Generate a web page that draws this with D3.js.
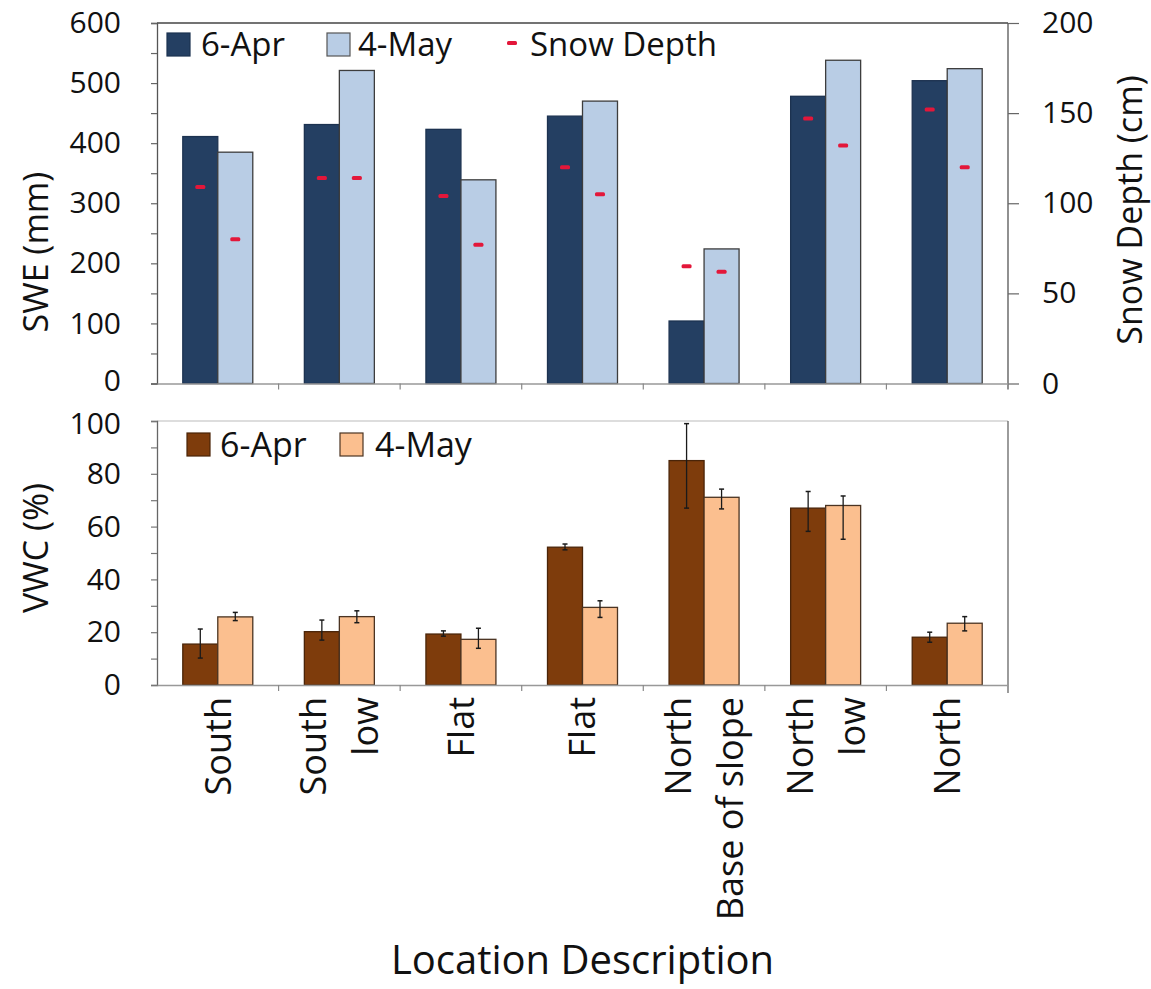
<!DOCTYPE html>
<html>
<head>
<meta charset="utf-8">
<script src="https://cdn.jsdelivr.net/npm/d3@7"></script>
<style>
  body { margin: 0; background: #fff; }
  svg { display: block; }
  text { font-family: "Open Sans", sans-serif; fill: #111; }
</style>
</head>
<body>
<svg id="chart" width="1151" height="989"></svg>
<script>
// Site descriptions (a "|" splits a label onto two rotated lines)
const categories = ["South", "South|low", "Flat", "Flat", "North|Base of slope", "North|low", "North"];
const seriesNames = ["6-Apr", "4-May"];

// Snow water equivalent (mm)
const sweApr = [411, 431, 423, 445, 104, 478, 504];
const sweMay = [385, 521, 339, 470, 224, 538, 524];

// Snow depth (cm)
const depthApr = [109, 114, 104, 120, 65, 147, 152];
const depthMay = [80, 114, 77, 105, 62, 132, 120];

// Volumetric water content (%) with error bar extents
const vwcApr = [15.5, 20.2, 19.3, 52.2, 85, 67, 18.1];
const vwcMay = [25.8, 25.9, 17.3, 29.4, 71.1, 68, 23.4];
const vwcAprErrUp = [5.7, 4.4, 1.2, 1.2, 14, 6.3, 1.9];
const vwcAprErrDown = [5.3, 3.2, 0.8, 1.0, 18, 8.8, 1.9];
const vwcMayErrUp = [1.7, 2.2, 4.2, 2.5, 3.1, 3.6, 2.5];
const vwcMayErrDown = [1.4, 2.3, 3.4, 3.8, 4.4, 12.8, 2.9];

// Axis ticks
const sweTicks = d3.range(0, 601, 50);
const sweLabelStep = 100;
const depthTicks = [0, 50, 100, 150, 200];
const vwcTicks = d3.range(0, 101, 10);
const vwcLabelStep = 20;

const svg = d3.select("#chart");
const left = 157, right = 1008;
const top1 = 23, bottom1 = 383.5;
const top2 = 421, bottom2 = 685;
const tickFont = 30;

const idx = d3.range(categories.length);
const x0 = d3.scaleBand().domain(idx).range([left, right]).paddingInner(0).paddingOuter(0);
const x1 = d3.scaleBand().domain(seriesNames).range([0, x0.bandwidth()]).paddingInner(0).paddingOuter(0.737);

const ySwe = d3.scaleLinear().domain([0, 600]).range([bottom1, top1]);
const yDepth = d3.scaleLinear().domain([0, 200]).range([bottom1, top1]);
const yVwc = d3.scaleLinear().domain([0, 100]).range([bottom2, top2]);

const colors = {
  navy: "#243f62", lightBlue: "#b9cde5",
  brown: "#7e3c0c", peach: "#fbbf8f",
  red: "#e3173a"
};

// ---------- Upper panel: SWE bars + snow depth markers ----------
const upper = svg.append("g");

const sweRows = idx.map(i => ({ i, vals: [
  { s: "6-Apr", v: sweApr[i], d: depthApr[i], fill: colors.navy, stroke: "#1c3250" },
  { s: "4-May", v: sweMay[i], d: depthMay[i], fill: colors.lightBlue, stroke: "#3d3d3d" }
]}));

const sweGroups = upper.selectAll("g.cat").data(sweRows).join("g")
  .attr("class", "cat")
  .attr("transform", d => `translate(${x0(d.i)},0)`);

sweGroups.selectAll("rect.bar").data(d => d.vals).join("rect")
  .attr("class", "bar")
  .attr("x", d => x1(d.s))
  .attr("width", x1.bandwidth())
  .attr("y", d => ySwe(d.v))
  .attr("height", d => ySwe(0) - ySwe(d.v))
  .attr("fill", d => d.fill)
  .attr("stroke", d => d.stroke)
  .attr("stroke-width", 1.3);

sweGroups.selectAll("rect.depth").data(d => d.vals).join("rect")
  .attr("class", "depth")
  .attr("x", d => x1(d.s) + x1.bandwidth() / 2 - 5)
  .attr("width", 10)
  .attr("y", d => yDepth(d.d) - 2)
  .attr("height", 4)
  .attr("rx", 1.5)
  .attr("fill", colors.red);

// frame top line
upper.append("line")
  .attr("x1", left).attr("x2", right)
  .attr("y1", top1).attr("y2", top1)
  .attr("stroke", "#444").attr("stroke-width", 1.3);

// left SWE axis
const axSwe = upper.append("g").attr("transform", `translate(${left},0)`)
  .call(d3.axisLeft(ySwe).tickValues(sweTicks)
    .tickFormat(d => d % sweLabelStep === 0 ? d : "")
    .tickSize(6).tickPadding(30));
// right depth axis
const axDepth = upper.append("g").attr("transform", `translate(${right},0)`)
  .call(d3.axisRight(yDepth).tickValues(depthTicks).tickSize(11).tickPadding(23));
// category baseline
const axX1 = upper.append("g").attr("transform", `translate(0,${bottom1})`)
  .call(d3.axisBottom(x0).tickValues([]).tickSizeOuter(0));
upper.selectAll("line.xt1").data(idx.slice(1)).join("line")
  .attr("class", "xt1")
  .attr("x1", i => x0(i)).attr("x2", i => x0(i))
  .attr("y1", bottom1).attr("y2", bottom1 + 6)
  .attr("stroke", "#888").attr("stroke-width", 1.2);

[axSwe, axDepth].forEach(ax => {
  ax.select(".domain").attr("stroke", "#555").attr("stroke-width", 1.3);
  ax.selectAll(".tick line").attr("stroke", "#666").attr("stroke-width", 1.2);
  ax.selectAll(".tick text").attr("font-size", tickFont).attr("font-family", "Open Sans").attr("fill", "#1a1a1a");
});
axDepth.select(".domain").attr("d", `M0,${top1}V${bottom1 + 6}`);
axX1.select(".domain").attr("stroke", "#999").attr("stroke-width", 1.3);

// upper legend
const leg1 = upper.append("g");
const leg1Items = [
  { label: "6-Apr", fill: colors.navy, stroke: "#1c3250", x: 167, tx: 201 },
  { label: "4-May", fill: colors.lightBlue, stroke: "#555", x: 327, tx: 358 }
];
leg1.selectAll("rect").data(leg1Items).join("rect")
  .attr("x", d => d.x).attr("y", 33).attr("width", 23).attr("height", 23)
  .attr("fill", d => d.fill).attr("stroke", d => d.stroke).attr("stroke-width", 1.2);
leg1.selectAll("text").data(leg1Items).join("text")
  .attr("x", d => d.tx).attr("y", 56).attr("font-size", 33).text(d => d.label);
leg1.append("rect").attr("x", 507).attr("y", 41).attr("width", 10).attr("height", 4)
  .attr("rx", 1.5).attr("fill", colors.red);
leg1.append("text").attr("x", 530).attr("y", 56).attr("font-size", 33).text("Snow Depth");

// axis titles
svg.append("text").attr("transform", "translate(35,252) rotate(-90)")
  .attr("text-anchor", "middle").attr("dominant-baseline", "central")
  .attr("font-size", 34).text("SWE (mm)");
svg.append("text").attr("transform", "translate(1129,210) rotate(-90)")
  .attr("text-anchor", "middle").attr("dominant-baseline", "central")
  .attr("font-size", 34).text("Snow Depth (cm)");

// ---------- Lower panel: VWC bars with error bars ----------
const lower = svg.append("g");

// top border (light) and right border
lower.append("line")
  .attr("x1", left).attr("x2", right).attr("y1", top2).attr("y2", top2)
  .attr("stroke", "#d2d2d2").attr("stroke-width", 1.5);
lower.append("line")
  .attr("x1", right).attr("x2", right).attr("y1", top2).attr("y2", bottom2 + 8)
  .attr("stroke", "#666").attr("stroke-width", 1.3);

const vwcRows = idx.map(i => ({ i, vals: [
  { s: "6-Apr", v: vwcApr[i], up: vwcAprErrUp[i], dn: vwcAprErrDown[i], fill: colors.brown, stroke: "#4a2408" },
  { s: "4-May", v: vwcMay[i], up: vwcMayErrUp[i], dn: vwcMayErrDown[i], fill: colors.peach, stroke: "#4b3422" }
]}));

const vwcGroups = lower.selectAll("g.cat").data(vwcRows).join("g")
  .attr("class", "cat")
  .attr("transform", d => `translate(${x0(d.i)},0)`);

vwcGroups.selectAll("rect.bar").data(d => d.vals).join("rect")
  .attr("class", "bar")
  .attr("x", d => x1(d.s))
  .attr("width", x1.bandwidth())
  .attr("y", d => yVwc(d.v))
  .attr("height", d => yVwc(0) - yVwc(d.v))
  .attr("fill", d => d.fill)
  .attr("stroke", d => d.stroke)
  .attr("stroke-width", 1.3);

const err = vwcGroups.selectAll("g.err").data(d => d.vals).join("g")
  .attr("class", "err")
  .attr("transform", d => `translate(${x1(d.s) + x1.bandwidth() / 2},0)`);
err.append("line")
  .attr("y1", d => yVwc(d.v + d.up)).attr("y2", d => yVwc(d.v - d.dn))
  .attr("stroke", "#1a1a1a").attr("stroke-width", 1.3);
err.append("line")
  .attr("x1", -2.5).attr("x2", 2.5)
  .attr("y1", d => yVwc(d.v + d.up)).attr("y2", d => yVwc(d.v + d.up))
  .attr("stroke", "#1a1a1a").attr("stroke-width", 1.5);
err.append("line")
  .attr("x1", -2.5).attr("x2", 2.5)
  .attr("y1", d => yVwc(d.v - d.dn)).attr("y2", d => yVwc(d.v - d.dn))
  .attr("stroke", "#1a1a1a").attr("stroke-width", 1.5);

const axVwc = lower.append("g").attr("transform", `translate(${left},0)`)
  .call(d3.axisLeft(yVwc).tickValues(vwcTicks)
    .tickFormat(d => d % vwcLabelStep === 0 ? d : "")
    .tickSize(6).tickPadding(30));
axVwc.select(".domain").attr("stroke", "#666").attr("stroke-width", 1.3);
axVwc.selectAll(".tick line").attr("stroke", "#777").attr("stroke-width", 1.2);
axVwc.selectAll(".tick text").attr("font-size", tickFont).attr("font-family", "Open Sans").attr("fill", "#1a1a1a");
// keep the top "100" label just below the upper panel's "0"
axVwc.selectAll(".tick").filter(d => d === 100).select("text").attr("dy", "0.42em");
axSwe.selectAll(".tick").filter(d => d === 0).select("text").attr("dy", "0.22em");

const axX2 = lower.append("g").attr("transform", `translate(0,${bottom2})`)
  .call(d3.axisBottom(x0).tickValues([]).tickSizeOuter(0));
axX2.select(".domain").attr("stroke", "#999").attr("stroke-width", 1.3);
lower.selectAll("line.xt2").data(idx.slice(1)).join("line")
  .attr("class", "xt2")
  .attr("x1", i => x0(i)).attr("x2", i => x0(i))
  .attr("y1", bottom2).attr("y2", bottom2 + 6)
  .attr("stroke", "#888").attr("stroke-width", 1.2);

// rotated category labels
const catLabels = lower.selectAll("text.catlabel").data(idx).join("text")
  .attr("class", "catlabel")
  .attr("font-size", 36)
  .attr("text-anchor", "end")
  .attr("transform", i => {
    const lines = categories[i].split("|");
    const cx = x0(i) + x0.bandwidth() / 2 - (lines.length - 1) * 26;
    return `translate(${cx},697) rotate(-90)`;
  });
catLabels.selectAll("tspan").data(i => categories[i].split("|")).join("tspan")
  .attr("x", 0)
  .attr("dy", (d, k) => k === 0 ? "0.36em" : "52px")
  .text(d => d);

// legend
const leg2Items = [
  { label: "6-Apr", fill: colors.brown, stroke: "#4a2408", x: 187, tx: 220 },
  { label: "4-May", fill: colors.peach, stroke: "#4b3422", x: 340, tx: 375 }
];
lower.selectAll("rect.leg").data(leg2Items).join("rect")
  .attr("class", "leg")
  .attr("x", d => d.x).attr("y", 433).attr("width", 23).attr("height", 23)
  .attr("fill", d => d.fill).attr("stroke", d => d.stroke).attr("stroke-width", 1.2);
lower.selectAll("text.leg").data(leg2Items).join("text")
  .attr("class", "leg")
  .attr("x", d => d.tx).attr("y", 457).attr("font-size", 34).text(d => d.label);

svg.append("text").attr("transform", "translate(35,548) rotate(-90)")
  .attr("text-anchor", "middle").attr("dominant-baseline", "central")
  .attr("font-size", 34).text("VWC (%)");

svg.append("text").attr("x", (left + right) / 2).attr("y", 974)
  .attr("text-anchor", "middle").attr("font-size", 40).text("Location Description");
</script>
</body>
</html>
